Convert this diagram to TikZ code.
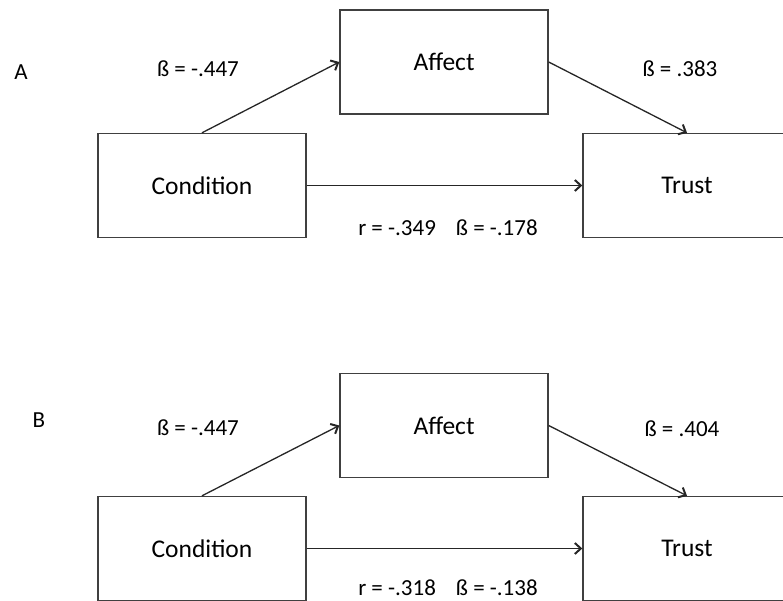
\documentclass[tikz,border=0pt]{standalone}
\usepackage{fontspec}
\setmainfont{Carlito}
\usepackage{tikz}
\usetikzlibrary{arrows.meta}

\begin{document}
\begin{tikzpicture}[
    x=1pt, y=-1pt,
    >={Straight Barb[length=6pt,width=11pt,line width=2pt]},
    varbox/.style={
        draw=black!75,
        line width=1.4pt,
        minimum width=208pt,
        minimum height=104pt,
        inner sep=0pt,
        font=\fontsize{25.5}{30}\selectfont
    },
    coef/.style={
        anchor=base,
        inner sep=0pt,
        text depth=0pt,
        font=\fontsize{23}{27}\selectfont
    },
    path/.style={
        ->,
        line width=1.3pt,
        black!85
    }
]

% Marc
\useasboundingbox (0,0) rectangle (783,601);

% Panell A
\node[coef] (labelA) at (21,80) {A};

\node[varbox] (condA) at (202,185.5) {Condition};
\node[varbox] (affectA) at (444,62) {Affect};
\node[varbox] (trustA) at (687,185.5) {Trust};

\draw[path] (condA.north) -- (affectA.west);
\draw[path] (affectA.east) -- (trustA.north);
\draw[path] (condA.east) -- (trustA.west);

\node[coef] (aA) at (198,77) {ß = -.447};
\node[coef] (bA) at (680,77) {ß = .383};
\node[coef] (cA) at (448,236) {r = -.349\hspace*{20pt}ß = -.178};

% Panell B
\node[coef] (labelB) at (39,427) {B};

\node[varbox] (condB) at (202,548.5) {Condition};
\node[varbox] (affectB) at (444,425.5) {Affect};
\node[varbox] (trustB) at (687,548.5) {Trust};

\draw[path] (condB.north) -- (affectB.west);
\draw[path] (affectB.east) -- (trustB.north);
\draw[path] (condB.east) -- (trustB.west);

\node[coef] (aB) at (198,435) {ß = -.447};
\node[coef] (bB) at (682,436) {ß = .404};
\node[coef] (cB) at (448,595) {r = -.318\hspace*{20pt}ß = -.138};

\end{tikzpicture}
\end{document}
